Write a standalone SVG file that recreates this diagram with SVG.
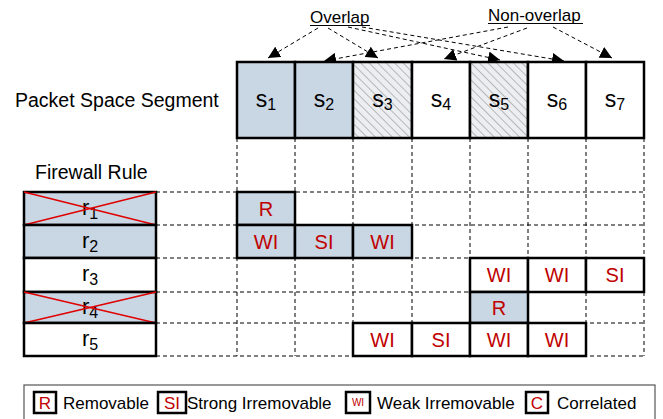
<svg xmlns="http://www.w3.org/2000/svg" width="663" height="419" viewBox="0 0 663 419">
<defs>
<pattern id="hatch" patternUnits="userSpaceOnUse" width="6" height="6" patternTransform="rotate(-45)">
<rect width="6" height="6" fill="#eceef1"/>
<line x1="0" y1="0" x2="0" y2="6" stroke="#a9a9a9" stroke-width="1.6"/>
</pattern>
<marker id="ah" viewBox="0 0 10 10" refX="10" refY="5" markerWidth="12" markerHeight="12" markerUnits="userSpaceOnUse" orient="auto">
<path d="M0,0 L10,5 L0,10 Z" fill="#000"/>
</marker>
</defs>
<style>
text{font-family:"Liberation Sans",Arial,sans-serif;}
.box{stroke:#000;stroke-width:2.5;}
.blue{fill:#c9d6e3;}
.white{fill:#fff;}
.grid{stroke:#000;stroke-width:1;stroke-dasharray:4,3;fill:none;}
.arr{stroke:#000;stroke-width:1;stroke-dasharray:4,3;fill:none;marker-end:url(#ah);}
.lbl{font-size:23px;fill:#000;text-anchor:middle;}
.rl{font-size:22px;fill:#000;text-anchor:middle;}
.sub{font-size:16px;}
.cell{font-size:20px;fill:#c00000;text-anchor:middle;}
.cross{stroke:#e00000;stroke-width:1.5;}
.leg{font-size:17px;fill:#000;}
.title{font-size:19.5px;fill:#000;}
</style>

<rect width="663" height="419" fill="#fff"/>

<g id="grid-lines">
<line class="grid" x1="237" y1="138" x2="237" y2="356"/>
<line class="grid" x1="295" y1="138" x2="295" y2="356"/>
<line class="grid" x1="353" y1="138" x2="353" y2="356"/>
<line class="grid" x1="412" y1="138" x2="412" y2="356"/>
<line class="grid" x1="470" y1="138" x2="470" y2="356"/>
<line class="grid" x1="528" y1="138" x2="528" y2="356"/>
<line class="grid" x1="586" y1="138" x2="586" y2="356"/>
<line class="grid" x1="644" y1="138" x2="644" y2="356"/>
<line class="grid" x1="156" y1="192" x2="644" y2="192"/>
<line class="grid" x1="156" y1="225" x2="644" y2="225" stroke="#555"/>
<line class="grid" x1="156" y1="258" x2="644" y2="258"/>
<line class="grid" x1="156" y1="292" x2="644" y2="292"/>
<line class="grid" x1="156" y1="323" x2="644" y2="323" stroke="#555"/>
<line class="grid" x1="156" y1="356" x2="644" y2="356" stroke="#555"/>
</g>

<text class="title" x="15" y="107">Packet Space Segment</text>
<text class="title" x="35" y="179">Firewall Rule</text>

<g id="overlap-label">
<text x="310" y="23" font-size="17" fill="#000">Overlap</text>
<line x1="310" y1="25.5" x2="370" y2="25.5" stroke="#000" stroke-width="1"/>
</g>
<g id="nonoverlap-label">
<text x="488" y="21" font-size="17" fill="#000">Non-overlap</text>
<line x1="488" y1="23.5" x2="583" y2="23.5" stroke="#000" stroke-width="1"/>
</g>

<g id="connectors">
<line class="arr" x1="318" y1="28" x2="268" y2="58"/>
<line class="arr" x1="328" y1="28" x2="378" y2="58"/>
<line class="arr" x1="348" y1="27" x2="500" y2="60"/>
<line class="arr" x1="362" y1="27" x2="564" y2="61"/>
<line class="arr" x1="508" y1="27" x2="324" y2="61"/>
<line class="arr" x1="527" y1="28" x2="444" y2="59"/>
<line class="arr" x1="553" y1="27" x2="612" y2="58"/>
</g>

<g id="s1"><rect class="box blue" x="237" y="62" width="58" height="76"/><text class="lbl" x="266" y="107">s<tspan class="sub" dy="3">1</tspan></text></g>
<g id="s2"><rect class="box blue" x="295" y="62" width="58" height="76"/><text class="lbl" x="324" y="107">s<tspan class="sub" dy="3">2</tspan></text></g>
<g id="s3"><rect class="box" fill="url(#hatch)" x="353" y="62" width="59" height="76"/><text class="lbl" x="382.5" y="107">s<tspan class="sub" dy="3">3</tspan></text></g>
<g id="s4"><rect class="box white" x="412" y="62" width="58" height="76"/><text class="lbl" x="441" y="107">s<tspan class="sub" dy="3">4</tspan></text></g>
<g id="s5"><rect class="box" fill="url(#hatch)" x="470" y="62" width="58" height="76"/><text class="lbl" x="499" y="107">s<tspan class="sub" dy="3">5</tspan></text></g>
<g id="s6"><rect class="box white" x="528" y="62" width="58" height="76"/><text class="lbl" x="557" y="107">s<tspan class="sub" dy="3">6</tspan></text></g>
<g id="s7"><rect class="box white" x="586" y="62" width="58" height="76"/><text class="lbl" x="615" y="107">s<tspan class="sub" dy="3">7</tspan></text></g>

<g id="r1"><rect class="box blue" x="24" y="192" width="132" height="33"/><text class="rl" x="90" y="215">r<tspan class="sub" font-size="15" dy="4">1</tspan></text><line class="cross" x1="24" y1="192" x2="156" y2="225"/><line class="cross" x1="24" y1="225" x2="156" y2="192"/></g>
<g id="r2"><rect class="box blue" x="24" y="225" width="132" height="33"/><text class="rl" x="90" y="248">r<tspan class="sub" font-size="15" dy="4">2</tspan></text></g>
<g id="r3"><rect class="box white" x="24" y="258" width="132" height="34"/><text class="rl" x="90" y="281">r<tspan class="sub" font-size="15" dy="4">3</tspan></text></g>
<g id="r4"><rect class="box blue" x="24" y="292" width="132" height="31"/><text class="rl" x="90" y="314">r<tspan class="sub" font-size="15" dy="4">4</tspan></text><line class="cross" x1="24" y1="292" x2="156" y2="323"/><line class="cross" x1="24" y1="323" x2="156" y2="292"/></g>
<g id="r5"><rect class="box white" x="24" y="323" width="132" height="33"/><text class="rl" x="90" y="346">r<tspan class="sub" font-size="15" dy="4">5</tspan></text></g>

<g id="cells">
<g id="c-r1-s1"><rect class="box blue" x="237" y="192" width="58" height="33"/><text class="cell" x="266" y="216">R</text></g>
<g id="c-r2-s1"><rect class="box blue" x="237" y="225" width="58" height="33"/><text class="cell" x="266" y="249">WI</text></g>
<g id="c-r2-s2"><rect class="box blue" x="295" y="225" width="58" height="33"/><text class="cell" x="324" y="249">SI</text></g>
<g id="c-r2-s3"><rect class="box blue" x="353" y="225" width="59" height="33"/><text class="cell" x="382.5" y="249">WI</text></g>
<g id="c-r3-s5"><rect class="box white" x="470" y="258" width="58" height="34"/><text class="cell" x="499" y="282">WI</text></g>
<g id="c-r3-s6"><rect class="box white" x="528" y="258" width="58" height="34"/><text class="cell" x="557" y="282">WI</text></g>
<g id="c-r3-s7"><rect class="box white" x="586" y="258" width="58" height="34"/><text class="cell" x="615" y="282">SI</text></g>
<g id="c-r4-s5"><rect class="box blue" x="470" y="292" width="58" height="31"/><text class="cell" x="499" y="315">R</text></g>
<g id="c-r5-s3"><rect class="box white" x="353" y="323" width="59" height="33"/><text class="cell" x="382.5" y="347">WI</text></g>
<g id="c-r5-s4"><rect class="box white" x="412" y="323" width="58" height="33"/><text class="cell" x="441" y="347">SI</text></g>
<g id="c-r5-s5"><rect class="box white" x="470" y="323" width="58" height="33"/><text class="cell" x="499" y="347">WI</text></g>
<g id="c-r5-s6"><rect class="box white" x="528" y="323" width="58" height="33"/><text class="cell" x="557" y="347">WI</text></g>
</g>

<g id="legend">
<rect x="24" y="385" width="631" height="45" fill="#fff" stroke="#555" stroke-width="1.2"/>
<rect class="box white" x="34" y="392" width="22" height="21"/>
<text x="45" y="409" font-size="17" fill="#c00000" text-anchor="middle">R</text>
<text class="leg" x="63" y="409">Removable</text>
<rect class="box white" x="158" y="392" width="28" height="21"/>
<text x="172" y="409" font-size="17" fill="#c00000" text-anchor="middle">SI</text>
<text class="leg" x="187" y="409">Strong Irremovable</text>
<rect class="box white" x="346" y="392" width="24" height="21"/>
<text x="358" y="406" font-size="10" fill="#c00000" text-anchor="middle">WI</text>
<text class="leg" x="377" y="409">Weak Irremovable</text>
<rect class="box white" x="526" y="392" width="22" height="21"/>
<text x="537" y="409" font-size="17" fill="#c00000" text-anchor="middle">C</text>
<text class="leg" x="557" y="409">Correlated</text>
</g>
</svg>
